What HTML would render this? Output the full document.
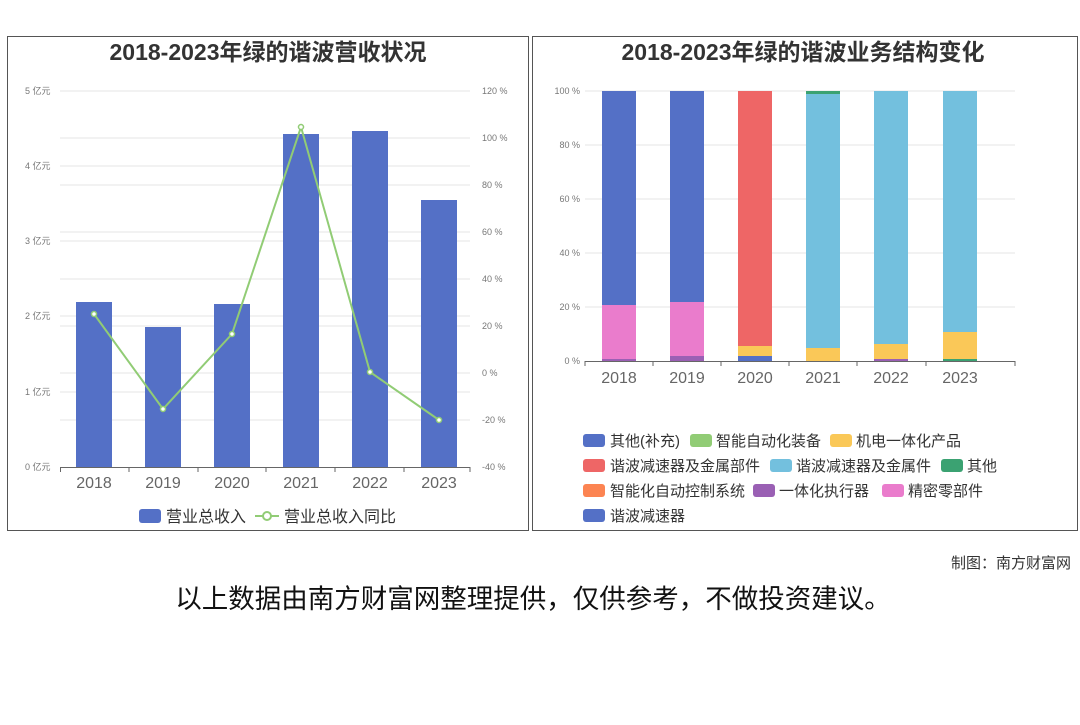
<!DOCTYPE html>
<html><head><meta charset="utf-8"><style>
body{margin:0;width:1080px;height:720px;background:#fff;overflow:hidden;font-family:"Liberation Sans","Noto Sans CJK SC",sans-serif;}
</style></head><body>
<svg width="1080" height="720" xmlns="http://www.w3.org/2000/svg" font-family="Liberation Sans, Noto Sans CJK SC, sans-serif">
<rect x="7.5" y="36.5" width="521" height="494" fill="#fff" stroke="#555"/>
<rect x="532.5" y="36.5" width="545" height="494" fill="#fff" stroke="#555"/>
<text x="268" y="60" text-anchor="middle" font-size="23" font-weight="bold" fill="#333">2018-2023年绿的谐波营收状况</text>
<text x="803" y="60" text-anchor="middle" font-size="23" font-weight="bold" fill="#333">2018-2023年绿的谐波业务结构变化</text>
<g stroke="#e6e6e6">
<line x1="60" x2="470" y1="91" y2="91"/><line x1="60" x2="470" y1="166" y2="166"/><line x1="60" x2="470" y1="241" y2="241"/><line x1="60" x2="470" y1="316" y2="316"/><line x1="60" x2="470" y1="392" y2="392"/>
<line x1="60" x2="470" y1="138" y2="138"/><line x1="60" x2="470" y1="185" y2="185"/><line x1="60" x2="470" y1="232" y2="232"/><line x1="60" x2="470" y1="279" y2="279"/><line x1="60" x2="470" y1="326" y2="326"/><line x1="60" x2="470" y1="373" y2="373"/><line x1="60" x2="470" y1="420" y2="420"/>
</g>
<g font-size="9" fill="#777">
<text x="25" y="94">5 亿元</text><text x="25" y="169">4 亿元</text><text x="25" y="244">3 亿元</text><text x="25" y="319">2 亿元</text><text x="25" y="395">1 亿元</text><text x="25" y="470">0 亿元</text>
<text x="482" y="94">120 %</text><text x="482" y="141">100 %</text><text x="482" y="188">80 %</text><text x="482" y="235">60 %</text><text x="482" y="282">40 %</text><text x="482" y="329">20 %</text><text x="482" y="376">0 %</text><text x="482" y="423">-20 %</text><text x="482" y="470">-40 %</text>
</g>
<g fill="#5470c6">
<rect x="76" y="302" width="36" height="165"/><rect x="145" y="327" width="36" height="140"/><rect x="214" y="304" width="36" height="163"/><rect x="283" y="134" width="36" height="333"/><rect x="352" y="131" width="36" height="336"/><rect x="421" y="200" width="36" height="267"/>
</g>
<line x1="60" x2="470" y1="467.5" y2="467.5" stroke="#666"/>
<g stroke="#666"><line x1="60.5" x2="60.5" y1="467" y2="472"/><line x1="129" x2="129" y1="467" y2="472"/><line x1="198" x2="198" y1="467" y2="472"/><line x1="266" x2="266" y1="467" y2="472"/><line x1="335" x2="335" y1="467" y2="472"/><line x1="404" x2="404" y1="467" y2="472"/><line x1="470" x2="470" y1="467" y2="472"/></g>
<polyline points="94,314 163,409 232,334 301,127 370,372 439,420" fill="none" stroke="#91cc75" stroke-width="2"/>
<g fill="#fff" stroke="#91cc75" stroke-width="1.5"><circle cx="94" cy="314" r="2.5"/><circle cx="163" cy="409" r="2.5"/><circle cx="232" cy="334" r="2.5"/><circle cx="301" cy="127" r="2.5"/><circle cx="370" cy="372" r="2.5"/><circle cx="439" cy="420" r="2.5"/></g>
<g font-size="16" fill="#666" text-anchor="middle"><text x="94" y="488">2018</text><text x="163" y="488">2019</text><text x="232" y="488">2020</text><text x="301" y="488">2021</text><text x="370" y="488">2022</text><text x="439" y="488">2023</text></g>
<rect x="139" y="509" width="22" height="14" rx="3" fill="#5470c6"/>
<text x="166" y="522" font-size="16" fill="#333">营业总收入</text>
<line x1="255" x2="279" y1="516" y2="516" stroke="#91cc75" stroke-width="2"/><circle cx="267" cy="516" r="4" fill="#fff" stroke="#91cc75" stroke-width="2"/>
<text x="284" y="522" font-size="16" fill="#333">营业总收入同比</text>
<g stroke="#e6e6e6"><line x1="585" x2="1015" y1="91" y2="91"/><line x1="585" x2="1015" y1="145" y2="145"/><line x1="585" x2="1015" y1="199" y2="199"/><line x1="585" x2="1015" y1="253" y2="253"/><line x1="585" x2="1015" y1="307" y2="307"/></g>
<g font-size="9" fill="#777" text-anchor="end"><text x="580" y="94">100 %</text><text x="580" y="148">80 %</text><text x="580" y="202">60 %</text><text x="580" y="256">40 %</text><text x="580" y="310">20 %</text><text x="580" y="364">0 %</text></g>
<rect x="602" y="91" width="34" height="214" fill="#5470c6"/><rect x="602" y="305" width="34" height="54" fill="#ea7ccc"/><rect x="602" y="359" width="34" height="2" fill="#9a60b4"/>
<rect x="670" y="91" width="34" height="211" fill="#5470c6"/><rect x="670" y="302" width="34" height="54" fill="#ea7ccc"/><rect x="670" y="356" width="34" height="5" fill="#9a60b4"/>
<rect x="738" y="91" width="34" height="255" fill="#ee6666"/><rect x="738" y="346" width="34" height="10" fill="#fac858"/><rect x="738" y="356" width="34" height="5" fill="#5470c6"/>
<rect x="806" y="91" width="34" height="3" fill="#3ba272"/><rect x="806" y="94" width="34" height="254" fill="#73c0de"/><rect x="806" y="348" width="34" height="13" fill="#fac858"/>
<rect x="874" y="91" width="34" height="253" fill="#73c0de"/><rect x="874" y="344" width="34" height="15" fill="#fac858"/><rect x="874" y="359" width="34" height="2" fill="#9a60b4"/>
<rect x="943" y="91" width="34" height="241" fill="#73c0de"/><rect x="943" y="332" width="34" height="27" fill="#fac858"/><rect x="943" y="359" width="34" height="2" fill="#3ba272"/>
<line x1="585" x2="1015" y1="361.5" y2="361.5" stroke="#666"/>
<g stroke="#666"><line x1="585" x2="585" y1="361" y2="366"/><line x1="653" x2="653" y1="361" y2="366"/><line x1="721" x2="721" y1="361" y2="366"/><line x1="789" x2="789" y1="361" y2="366"/><line x1="857" x2="857" y1="361" y2="366"/><line x1="926" x2="926" y1="361" y2="366"/><line x1="1015" x2="1015" y1="361" y2="366"/></g>
<g font-size="16" fill="#666" text-anchor="middle"><text x="619" y="383">2018</text><text x="687" y="383">2019</text><text x="755" y="383">2020</text><text x="823" y="383">2021</text><text x="891" y="383">2022</text><text x="960" y="383">2023</text></g>
<g font-size="15" fill="#333">
<rect x="583" y="434" width="22" height="13" rx="3" fill="#5470c6"/><text x="610" y="446">其他(补充)</text>
<rect x="690" y="434" width="22" height="13" rx="3" fill="#91cc75"/><text x="716" y="446">智能自动化装备</text>
<rect x="830" y="434" width="22" height="13" rx="3" fill="#fac858"/><text x="856" y="446">机电一体化产品</text>
<rect x="583" y="459" width="22" height="13" rx="3" fill="#ee6666"/><text x="610" y="471">谐波减速器及金属部件</text>
<rect x="770" y="459" width="22" height="13" rx="3" fill="#73c0de"/><text x="796" y="471">谐波减速器及金属件</text>
<rect x="941" y="459" width="22" height="13" rx="3" fill="#3ba272"/><text x="967" y="471">其他</text>
<rect x="583" y="484" width="22" height="13" rx="3" fill="#fc8452"/><text x="610" y="496">智能化自动控制系统</text>
<rect x="753" y="484" width="22" height="13" rx="3" fill="#9a60b4"/><text x="779" y="496">一体化执行器</text>
<rect x="882" y="484" width="22" height="13" rx="3" fill="#ea7ccc"/><text x="908" y="496">精密零部件</text>
<rect x="583" y="509" width="22" height="13" rx="3" fill="#5470c6"/><text x="610" y="521">谐波减速器</text>
</g>
<text x="1071" y="568" text-anchor="end" font-size="15" fill="#333">制图：南方财富网</text>
<text x="533" y="608" text-anchor="middle" font-size="26.5" fill="#111">以上数据由南方财富网整理提供，仅供参考，不做投资建议。</text>
</svg>
</body></html>
